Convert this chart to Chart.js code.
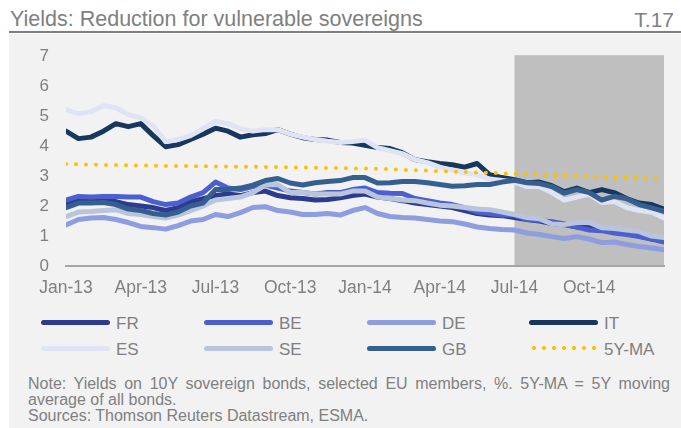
<!DOCTYPE html>
<html>
<head>
<meta charset="utf-8">
<script src="https://cdn.jsdelivr.net/npm/chart.js@4.4.1/dist/chart.umd.min.js"></script>
<style>
  body { margin: 0; width: 681px; height: 428px; overflow: hidden; background: #fff; position: relative;
         font-family: "Liberation Sans", Arial, sans-serif; color: #808080; }
  .title { position: absolute; left: 10px; top: 9px; font-size: 21.5px; line-height: 21px; white-space: nowrap; }
  .tnum { position: absolute; right: 7px; top: 9px; font-size: 21px; line-height: 21px; }
  .rule { position: absolute; left: 9px; top: 31px; width: 672px; height: 2px; background: #7f7f7f; }
  .panel { position: absolute; left: 9px; top: 34px; right: 0; bottom: 0; background: #f2f2f2; }
  #chartBox { position: absolute; left: 0; top: 29px; width: 681px; height: 275px; }
  #chartBox canvas { display: block; }
  .lg-line { position: absolute; width: 69px; height: 5px; border-radius: 3px; }
  .lg-dots { position: absolute; width: 70px; height: 6px; background-repeat: repeat-x; background-size: 10px 6px; }
  .lg-text { position: absolute; font-size: 17px; line-height: 17px; white-space: nowrap; }
  .note { position: absolute; left: 28px; top: 376px; width: 642px; font-size: 16px; line-height: 16px; }
  .note p { margin: 0; text-align: justify; }
</style>
</head>
<body>
<div class="title">Yields: Reduction for vulnerable sovereigns</div>
<div class="tnum">T.17</div>
<div class="rule"></div>
<div class="panel"></div>
<div id="chartBox"><canvas id="yieldsChart" width="681" height="275"></canvas></div>
<div id="legend"></div>
<div class="note">
  <p>Note: Yields on 10Y sovereign bonds, selected EU members, %. 5Y-MA = 5Y moving average of all bonds.</p>
  <p style="text-align:left">Sources: Thomson Reuters Datastream, ESMA.</p>
</div>
<script>
// months since Jan-13, sampled twice a month
const months = [0, 0.5, 1, 1.5, 2, 2.5, 3, 3.5, 4, 4.5, 5, 5.5,
  6, 6.5, 7, 7.5, 8, 8.5, 9, 9.5, 10, 10.5, 11, 11.5,
  12, 12.5, 13, 13.5, 14, 14.5, 15, 15.5, 16, 16.5, 17, 17.5,
  18, 18.5, 19, 19.5, 20, 20.5, 21, 21.5, 22, 22.5, 23, 23.5, 24];
const tickLabels = ['Jan-13', 'Apr-13', 'Jul-13', 'Oct-13', 'Jan-14', 'Apr-14', 'Jul-14', 'Oct-14'];

// yields, %
const fr = [2.1, 2.2, 2.2, 2.2, 2.15, 2.05, 2.0, 1.95, 1.85, 1.95, 2.15, 2.25,
  2.35, 2.4, 2.35, 2.45, 2.5, 2.35, 2.28, 2.25, 2.2, 2.22, 2.28, 2.35,
  2.4, 2.3, 2.25, 2.18, 2.1, 2.05, 2.0, 1.95, 1.85, 1.75, 1.7, 1.68,
  1.62, 1.55, 1.5, 1.42, 1.38, 1.3, 1.28, 1.25, 1.15, 1.1, 1.0, 0.9, 0.85];
const be = [2.2, 2.32, 2.3, 2.32, 2.32, 2.3, 2.3, 2.15, 2.05, 2.1, 2.3, 2.45,
  2.8, 2.6, 2.55, 2.65, 2.7, 2.6, 2.5, 2.45, 2.4, 2.45, 2.45, 2.55,
  2.6, 2.45, 2.43, 2.42, 2.25, 2.18, 2.1, 2.05, 1.95, 1.8, 1.75, 1.7,
  1.7, 1.55, 1.52, 1.48, 1.4, 1.3, 1.2, 1.18, 1.1, 1.05, 0.98, 0.9, 0.8];
const de = [1.37, 1.55, 1.6, 1.62, 1.55, 1.45, 1.32, 1.28, 1.23, 1.35, 1.5, 1.55,
  1.72, 1.65, 1.78, 1.95, 1.98, 1.85, 1.8, 1.72, 1.72, 1.75, 1.7, 1.85,
  1.95, 1.75, 1.65, 1.62, 1.6, 1.55, 1.5, 1.48, 1.4, 1.3, 1.25, 1.22,
  1.2, 1.1, 1.05, 0.98, 0.92, 0.98, 0.9, 0.78, 0.8, 0.72, 0.65, 0.6, 0.54];
const it = [4.5, 4.25, 4.3, 4.5, 4.75, 4.65, 4.75, 4.35, 3.98, 4.05, 4.22, 4.4,
  4.6, 4.5, 4.3, 4.38, 4.42, 4.55, 4.4, 4.28, 4.22, 4.2, 4.12, 4.1,
  4.03, 3.95, 3.92, 3.78, 3.55, 3.48, 3.42, 3.38, 3.3, 3.42, 3.05, 2.95,
  2.88, 2.78, 2.8, 2.68, 2.48, 2.6, 2.45, 2.55, 2.45, 2.25, 2.1, 2.05, 1.9];
const es = [5.22, 5.08, 5.15, 5.35, 5.28, 5.05, 4.95, 4.68, 4.15, 4.22, 4.35, 4.58,
  4.83, 4.75, 4.58, 4.5, 4.55, 4.55, 4.4, 4.3, 4.22, 4.16, 4.12, 4.15,
  4.2, 3.95, 3.85, 3.75, 3.55, 3.45, 3.3, 3.2, 3.1, 3.05, 2.9, 2.85,
  2.8, 2.65, 2.65, 2.45, 2.2, 2.3, 2.4, 2.12, 2.15, 1.95, 1.85, 1.8, 1.6];
const se = [1.65, 1.8, 1.82, 1.85, 1.88, 1.75, 1.72, 1.65, 1.6, 1.7, 1.85, 2.0,
  2.2, 2.25, 2.3, 2.45, 2.7, 2.72, 2.45, 2.45, 2.4, 2.4, 2.4, 2.5,
  2.5, 2.3, 2.25, 2.2, 2.18, 2.1, 2.03, 2.0, 1.95, 1.9, 1.88, 1.8,
  1.72, 1.62, 1.58, 1.4, 1.38, 1.45, 1.45, 1.28, 1.25, 1.2, 1.15, 1.0, 0.95];
const gb = [1.95, 2.1, 2.1, 2.12, 2.05, 1.9, 1.85, 1.75, 1.7, 1.8, 2.0, 2.1,
  2.55, 2.55, 2.6, 2.7, 2.85, 2.92, 2.77, 2.7, 2.78, 2.82, 2.85, 2.95,
  2.95, 2.77, 2.78, 2.82, 2.82, 2.78, 2.72, 2.66, 2.68, 2.72, 2.72, 2.8,
  2.86, 2.78, 2.75, 2.65, 2.43, 2.55, 2.45, 2.2, 2.32, 2.25, 2.05, 1.94, 1.82];
const ma5y = [3.40, 3.39, 3.38, 3.37, 3.37, 3.36, 3.35, 3.35, 3.34, 3.34, 3.33, 3.33,
  3.32, 3.32, 3.31, 3.31, 3.30, 3.30, 3.29, 3.29, 3.28, 3.27, 3.27, 3.26,
  3.25, 3.24, 3.23, 3.21, 3.20, 3.18, 3.17, 3.15, 3.14, 3.12, 3.11, 3.09,
  3.08, 3.06, 3.05, 3.03, 3.02, 3.00, 2.99, 2.97, 2.96, 2.95, 2.94, 2.92, 2.91];

const seriesNames = ['FR', 'BE', 'DE', 'IT', 'ES', 'SE', 'GB', '5Y-MA'];
const seriesValues = [fr, be, de, it, es, se, gb, ma5y];
const seriesColors = ['#2c3b8e', '#4b5fcf', '#8d9de0', '#17375e', '#dfe4f5', '#b9c5dc', '#365f91', '#ffc000'];

// shaded period (months since Jan-13)
const shadeStart = 18;
const shadeEnd = 24;

const fontFamily = '"Liberation Sans", Arial, sans-serif';
const textGrey = '#808080';

// grey box behind the lines for the recent period
const shadePlugin = {
  id: 'shade',
  beforeDatasetsDraw(chart) {
    const { ctx, scales } = chart;
    const left = scales.x.getPixelForValue(shadeStart);
    const right = scales.x.getPixelForValue(shadeEnd);
    const top = scales.y.getPixelForValue(scales.y.max) - 1;
    const bottom = scales.y.getPixelForValue(0) - 1;
    ctx.save();
    ctx.fillStyle = '#bfbfbf';
    ctx.fillRect(left, top, right - left, bottom - top);
    ctx.restore();
  }
};

const datasets = seriesNames.map((name, i) => {
  const isAverage = name === '5Y-MA';
  return {
    label: name,
    data: months.map((m, j) => ({ x: m, y: seriesValues[i][j] })),
    borderColor: seriesColors[i],
    borderWidth: isAverage ? 4 : 5,
    borderDash: isAverage ? [0, 10] : [],
    borderCapStyle: 'round',
    borderJoinStyle: 'round',
    pointRadius: 0,
    tension: 0,
    fill: false,
    order: seriesNames.length - i // first in the list ends up at the bottom
  };
});

new Chart(document.getElementById('yieldsChart'), {
  type: 'line',
  data: { datasets: datasets },
  plugins: [shadePlugin],
  options: {
    responsive: false,
    animation: false,
    layout: { padding: { left: 0, right: 17, top: 19, bottom: 0 } },
    plugins: { legend: { display: false }, tooltip: { enabled: false } },
    scales: {
      x: {
        type: 'linear',
        min: 0,
        max: 24,
        grid: { display: false, drawTicks: false },
        border: { display: true, color: '#a6a6a6', width: 2 },
        ticks: {
          stepSize: 3,
          autoSkip: false,
          maxRotation: 0,
          padding: 12,
          color: textGrey,
          font: { family: fontFamily, size: 17.5 },
          callback: (value) => tickLabels[value / 3] || ''
        },
        afterFit: (scale) => { scale.height = 38; }
      },
      y: {
        min: 0,
        max: 7,
        grid: { display: false, drawTicks: false },
        border: { display: false },
        ticks: {
          stepSize: 1,
          padding: 17,
          color: textGrey,
          font: { family: fontFamily, size: 17 }
        },
        afterFit: (scale) => { scale.width = 66; }
      }
    }
  }
});

// legend, 4 columns x 2 rows
const legendBox = document.getElementById('legend');
const legendCols = [41, 204, 367, 529];
const legendRows = [322, 348];
seriesNames.forEach((name, i) => {
  const left = legendCols[i % 4];
  const mid = legendRows[Math.floor(i / 4)];
  const sample = document.createElement('div');
  if (name === '5Y-MA') {
    sample.className = 'lg-dots';
    sample.style.top = (mid - 3) + 'px';
    sample.style.left = left + 'px';
    sample.style.backgroundImage = `radial-gradient(circle at 5px 3px, ${seriesColors[i]} 1.7px, transparent 2.3px)`;
  } else {
    sample.className = 'lg-line';
    sample.style.top = (mid - 2.5) + 'px';
    sample.style.left = left + 'px';
    sample.style.background = seriesColors[i];
  }
  legendBox.appendChild(sample);
  const text = document.createElement('div');
  text.className = 'lg-text';
  text.style.left = (left + 75) + 'px';
  text.style.top = (mid - 7) + 'px';
  text.textContent = name;
  legendBox.appendChild(text);
});
</script>
</body>
</html>
